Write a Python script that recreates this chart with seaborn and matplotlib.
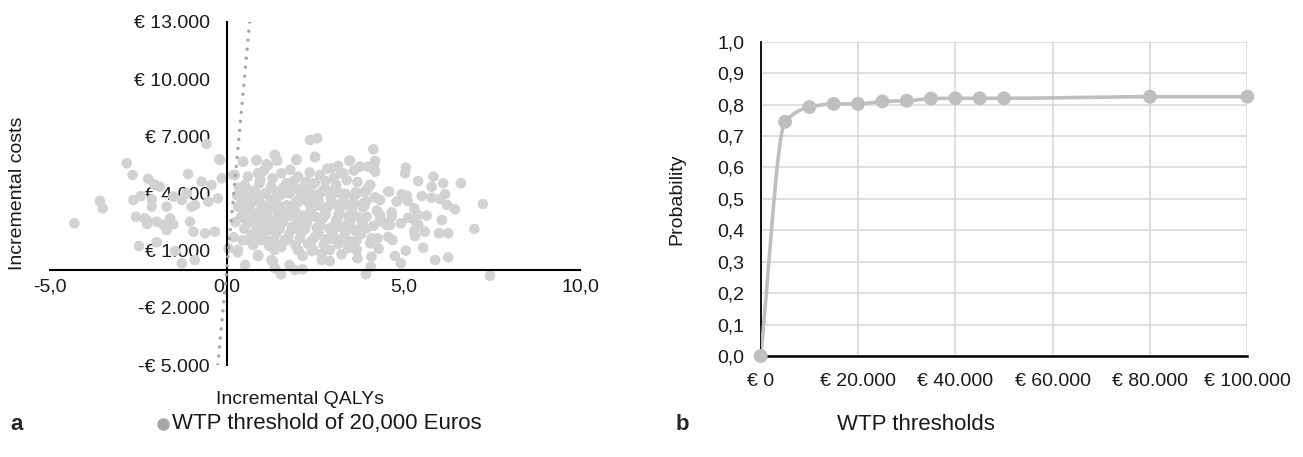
import numpy as np
import pandas as pd
import matplotlib
matplotlib.use("Agg")
import matplotlib.pyplot as plt
import seaborn as sns
from matplotlib.lines import Line2D

# ---- panel a: incremental QALYs / costs ----
qalys = [
    -2.83, -2.66, -2.22, -2.05, -3.59, -3.51, -4.31, -2.64, -2.43, -2.12, -2.57, -2.33, -2.25,
    -1.98, -1.79, -1.70, -1.60, -1.51, -2.48, -1.98, -1.46, -1.09, -0.57, -0.71, -0.19, -0.43,
    -1.13, -1.51, -1.89, -2.12, -0.99, -1.70, -2.26,
    -0.21, -0.90, -0.52, -0.25, -0.14, 0.19, 0.47, 0.85, 1.37, 1.13, -1.04, -0.94, -0.61, -0.33,
    -1.27, -0.90, 0.05, 0.31, 0.52, 0.89, 1.37, 1.27, 1.54, -1.27,
    2.36, 2.56, 1.98, 2.50, 3.47, 4.15, 3.77, 4.20, 4.01, 4.20, 2.97, 3.23, 1.93, 2.15, 3.94,
    4.08, 2.92, 2.69, 2.41, 2.15, 2.03, 3.25, 3.68, 3.70, 4.06, 4.27, 2.22, 2.97, 3.44, 4.34,
    4.53, 4.39, 4.06, 3.91, 3.70, 4.57,
    5.07, 5.05, 5.42, 5.85, 5.80, 6.13, 6.63, 4.60, 4.95, 5.09, 5.52, 5.80, 6.04, 6.18, 4.81,
    5.12, 6.24, 6.46, 7.25, 5.31, 4.67, 4.67, 5.14, 5.42, 5.66, 5.33, 6.09, 4.53, 4.93, 5.42,
    4.62, 5.31, 5.61, 6.01, 6.27, 7.01, 4.57, 4.69, 5.33, 5.56, 5.07, 4.76, 4.93, 5.90, 6.27, 7.45,
    0.46, 0.84, 1.17, 1.43, 1.36, 1.97, 0.23, 0.60, 0.89, 1.55, 2.02, 0.51, 0.93, 1.26, 1.69,
    1.92, 0.41, 0.74, 1.08, 1.45, 1.78, 2.07, 0.32, 0.65, 0.98, 1.26, 1.59, 1.92, 0.41, 0.74,
    1.08, 1.36, 1.69, 2.02, 0.51, 0.84, 1.17, 1.50, 1.83, 0.60, 0.98, 1.36, 1.74, 2.07, 0.32,
    0.89, 1.36, 2.02, 1.31, 1.78,
    2.50, 3.49, 3.77, 4.17, 3.30, 2.64, 3.02, 2.26, 2.36, 2.78, 3.21, 3.68, 4.06, 4.34, 2.22,
    2.59, 3.02, 3.40, 3.87, 2.36, 2.78, 3.16, 3.54, 3.96, 4.34, 2.26, 2.64, 3.02, 3.40, 3.77,
    2.50, 2.92, 3.30, 3.68, 4.10, 2.45, 2.92, 3.44, 4.10, 2.69,
    0.60, 0.95, 1.30, 1.60, 1.90, 2.20, 2.50, 2.80, 3.10, 3.40, 3.70, 4.00,
    0.55, 0.90, 1.25, 1.55, 1.95, 2.30, 2.60, 2.95, 3.30, 3.60, 3.95, 4.20,
    0.50, 0.85, 1.15, 1.45, 1.75, 2.10, 2.45, 2.85, 3.20, 3.55, 3.85, 4.25,
    0.60, 0.95, 1.25, 1.60, 1.95, 2.30, 2.70, 3.10, 3.50, 3.85, 4.15,
    0.70, 1.05, 1.40, 1.75, 2.10, 2.60, 3.00, 3.35, 3.80,
    0.75, 1.20, 1.55, 1.95, 2.30, 2.75, 3.15, 3.60, 4.30,
    1.05, 1.80, 2.35, 2.85, 3.15, 3.60, 0.35, 0.30, 0.25, 0.20,
    0.45, 0.80, 1.10, 1.40, 1.75, 2.05, 2.40, 2.70, 3.00, 3.35, 3.65, 3.95,
    0.40, 0.70, 1.05, 1.35, 1.70, 2.00, 2.35, 2.65, 2.95, 3.30, 3.60, 3.90,
    0.45, 0.80, 1.15, 1.50, 1.80, 2.15, 2.50, 2.80, 3.15, 3.45, 3.75,
    0.50, 0.85, 1.20, 1.50, 1.85, 2.20, 2.55, 2.90, 3.25, 3.60, 3.95,
    0.45, 0.85, 1.25, 1.65, 2.40, 2.80, 3.20, 3.50,
]
costs = [
    5586, 4972, 4762, 4483, 3607, 3223, 2436, 3659, 3869, 3308, 2783, 2698, 2399,
    2520, 2347, 2084, 2698, 2383, 1244, 1438, 982, 5024, 6599, 4620, 5759, 4447,
    4011, 3833, 4358, 3696, 3308, 3308, 2609,
    5796, 3397, 3570, 3748, 4798, 4972, 5670, 5759, 6022, 5534, 2520, 1995, 1911, 1995,
    336, 509, 1124, 914, 247, 772, 74, 509, -241, 3659,
    6809, 6898, 5796, 5901, 5723, 6321, 5408, 5707, 5408, 5145, 5324, 5061, -16, 21, -241,
    158, 457, 809, 982, 719, 1034, 809, 1034, 598, 1386, 1648, 2173, 1648, 1208, 2872,
    2347, 2520, 4447, 4095, 4011, 4095,
    5355, 5061, 4657, 4883, 4358, 4536, 4536, 4095, 3958, 3885, 3869, 3780, 3712, 3958, 3570,
    3607, 3397, 3171, 3449, 3223, 3013, 2783, 2730, 2872, 2835, 2557, 2609, 2436, 2436, 2383,
    2347, 2032, 1995, 1911, 1911, 2137, 1733, 1559, 1769, 1155, 998, 719, 336, 509, 651, -315,
    5670, 5723, 5497, 5723, 6022, 5759, 4972, 4883, 5061, 5061, 4883, 4447, 4536, 4358, 4536,
    4274, 3833, 3922, 4011, 3833, 4011, 3748, 3308, 3223, 3397, 3223, 3308, 3134, 2783, 2698,
    2783, 2609, 2783, 2609, 2173, 2084, 2084, 2173, 2084, 1559, 1559, 1470, 1559, 1648, 1034,
    719, 1034, 1034, 420, 247,
    5933, 5723, 5408, 5497, 5061, 4972, 4798, 4620, 4184, 4274, 4011, 4011, 4447, 3659, 3659,
    3659, 3486, 3397, 3486, 3045, 2961, 2872, 2872, 2783, 2609, 2436, 2347, 2258, 2347, 2173,
    1733, 1648, 1648, 1559, 1648, 1034, 1034, 1124, 683, 509,
    4200, 4750, 4800, 4300, 4650, 4400, 4550, 4650, 4450, 4700, 4600, 4300,
    3600, 3750, 3650, 3950, 3550, 3900, 3950, 3800, 3700, 3850, 3600, 3800,
    3000, 2950, 3050, 2950, 3050, 2850, 3300, 3250, 3150, 3100, 3300, 3100,
    2450, 2400, 2350, 2500, 2350, 2700, 2650, 2600, 2550, 2500, 2300,
    1800, 1850, 1900, 1800, 1900, 1950, 1950, 1900, 1850,
    1300, 1250, 1200, 1300, 1350, 1300, 1350, 1300, 1100,
    5200, 5250, 5100, 5300, 5450, 5200, 4300, 3900, 2500, 1700,
    4050, 4150, 3980, 4100, 4020, 4180, 3950, 4080, 4120, 3990, 4060, 4140,
    3400, 3480, 3350, 3450, 3380, 3520, 3420, 3360, 3470, 3410, 3500, 3350,
    2750, 2820, 2700, 2780, 2850, 2720, 2790, 2880, 2740, 2810, 2760,
    2150, 2220, 2100, 2180, 2250, 2120, 2200, 2160, 2230, 2090, 2170,
    1550, 1620, 1500, 1580, 1520, 1600, 1560, 1480,
]
wtp_threshold = 20000
threshold_qaly_range = [-0.25, 0.65]

# ---- panel b: acceptability curve ----
wtp_values = [0, 5000, 10000, 15000, 20000, 25000, 30000, 35000, 40000, 45000, 50000, 80000, 100000]
probability = [0.0, 0.745, 0.792, 0.802, 0.802, 0.810, 0.812, 0.819, 0.820, 0.820, 0.820, 0.825, 0.825]

sns.set_style("white")
plt.rcParams["font.family"] = ["Liberation Sans", "DejaVu Sans"]

W, H = 1303, 457
fig = plt.figure(figsize=(W / 100, H / 100), dpi=100)

def fig_box(x0, y0, x1, y1):
    return [x0 / W, 1 - y1 / H, (x1 - x0) / W, (y1 - y0) / H]

def euro(v):
    s = f"{abs(v):,.0f}".replace(",", ".")
    return ("-" if v < 0 else "") + "€ " + s

scatter_col = "#d0d2d3"
dot_col = "#a6a6a6"
line_col = "#bfbfbf"

# ---------------- panel a ----------------
ax1 = fig.add_axes(fig_box(50, 22, 580, 365))
ce = pd.DataFrame({"qaly": qalys, "cost": costs})
sns.scatterplot(data=ce, x="qaly", y="cost", ax=ax1, color=scatter_col, s=58,
                edgecolor="none", linewidth=0, zorder=1)

tq = np.array(threshold_qaly_range)
ax1.plot(tq, tq * wtp_threshold, color=dot_col, lw=2.5,
         linestyle=(0, (0.01, 2.6)), dash_capstyle="round", zorder=3)

ax1.set_xlim(-5, 10)
ax1.set_ylim(-5000, 13000)
ax1.set_xticks([-5, 0, 5, 10])
ax1.set_xticklabels([f"{v:.1f}".replace(".", ",") for v in [-5, 0, 5, 10]])
yt = [-5000, -2000, 1000, 4000, 7000, 10000, 13000]
ax1.set_yticks(yt)
ax1.set_yticklabels([euro(v) for v in yt])
ax1.spines["left"].set_position(("data", 0))
ax1.spines["bottom"].set_position(("data", 0))
for sp in ["top", "right"]:
    ax1.spines[sp].set_visible(False)
for sp in ["left", "bottom"]:
    ax1.spines[sp].set_color("black")
    ax1.spines[sp].set_linewidth(1.5)
    ax1.spines[sp].set_zorder(2)
ax1.tick_params(axis="y", length=0, pad=12, labelsize=14, colors="#1a1a1a")
ax1.tick_params(axis="x", length=0, pad=6, labelsize=14, colors="#1a1a1a")
ax1.set_xlabel("Incremental QALYs", fontsize=14, color="#1a1a1a")
ax1.set_ylabel("Incremental costs", fontsize=14, color="#1a1a1a")
ax1.xaxis.set_label_coords(0.472, -0.075)
ax1.yaxis.set_label_coords(-0.045, 0.5)

# ---------------- panel b ----------------
ax2 = fig.add_axes(fig_box(760.7, 41.7, 1247.3, 356))

# smoothed line through the points (monotone cubic, no overshoot)
px = np.array(wtp_values, float)
py = np.array(probability, float)
h = np.diff(px)
d = np.diff(py) / h
m = np.zeros_like(py)
m[0], m[-1] = d[0], d[-1]
for i in range(1, len(py) - 1):
    if d[i - 1] * d[i] > 0:
        w1, w2 = 2 * h[i] + h[i - 1], h[i] + 2 * h[i - 1]
        m[i] = (w1 + w2) / (w1 / d[i - 1] + w2 / d[i])
xs, ys = [], []
for i in range(len(px) - 1):
    t = np.linspace(0, 1, 40)
    h00, h10 = 2 * t**3 - 3 * t**2 + 1, t**3 - 2 * t**2 + t
    h01, h11 = -2 * t**3 + 3 * t**2, t**3 - t**2
    xs.append(px[i] + t * h[i])
    ys.append(h00 * py[i] + h10 * h[i] * m[i] + h01 * py[i + 1] + h11 * h[i] * m[i + 1])
curve = pd.DataFrame({"wtp": np.concatenate(xs), "prob": np.concatenate(ys)})
sns.lineplot(data=curve, x="wtp", y="prob", ax=ax2, color=line_col, lw=2.6, sort=False,
             estimator=None, zorder=3)
ceac = pd.DataFrame({"wtp": wtp_values, "prob": probability})
sns.scatterplot(data=ceac, x="wtp", y="prob", ax=ax2, color=line_col, s=100,
                edgecolor="none", zorder=4, clip_on=False)

ax2.set_xlim(0, 100000)
ax2.set_ylim(0, 1.0)
xt = [0, 20000, 40000, 60000, 80000, 100000]
ax2.set_xticks(xt)
ax2.set_xticklabels([euro(v) for v in xt])
yt2 = np.round(np.arange(0, 1.01, 0.1), 1)
ax2.set_yticks(yt2)
ax2.set_yticklabels([f"{v:.1f}".replace(".", ",") for v in yt2])
ax2.grid(True, color="#d9d9d9", lw=1.2)
ax2.set_axisbelow(True)
for sp in ["top", "right"]:
    ax2.spines[sp].set_visible(False)
ax2.spines["left"].set_color("black")
ax2.spines["left"].set_linewidth(1.3)
ax2.spines["bottom"].set_color("black")
ax2.spines["bottom"].set_linewidth(1.8)
ax2.tick_params(length=0, labelsize=14, colors="#1a1a1a")
ax2.tick_params(axis="y", pad=12)
ax2.tick_params(axis="x", pad=12)
ax2.set_xlabel("")
ax2.set_ylabel("Probability", fontsize=14, color="#1a1a1a")
ax2.yaxis.set_label_coords(-0.155, 0.5)

# ---------------- bottom captions ----------------
yb = 1 - 424 / H
fig.text(10 / W, yb, "a", fontsize=16, fontweight="bold", va="center", ha="left")
fig.add_artist(Line2D([163 / W], [yb], marker="o", ms=8, color=dot_col, ls="",
                      transform=fig.transFigure))
fig.text(172 / W, yb, "WTP threshold of 20,000 Euros", fontsize=16, va="center",
         ha="left", color="#1a1a1a")
fig.text(676 / W, yb, "b", fontsize=16, fontweight="bold", va="center", ha="left")
fig.text(837 / W, yb, "WTP thresholds", fontsize=16, va="center", ha="left",
         color="#1a1a1a")

fig.savefig("out.png", dpi=100)
